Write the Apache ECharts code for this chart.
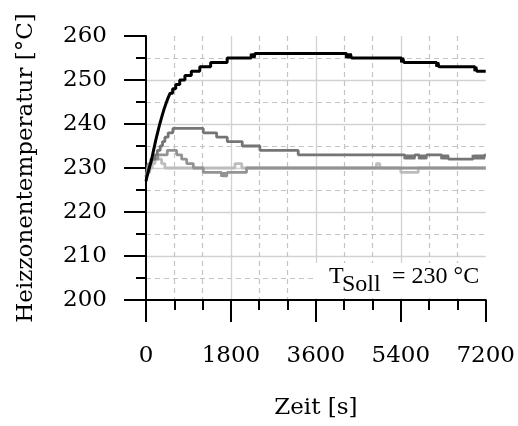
<!DOCTYPE html>
<html>
<head>
<meta charset="utf-8">
<script src="https://cdn.jsdelivr.net/npm/echarts@6/dist/echarts.min.js"></script>
<style>
  html, body { margin: 0; padding: 0; background: #fff; }
  #chart { width: 518px; height: 426px; }
</style>
</head>
<body>
<div id="chart"></div>
<script>
// Axis ticks
const timeTicks = [0, 1800, 3600, 5400, 7200];          // Zeit [s]
const tempTicks = [200, 210, 220, 230, 240, 250, 260];  // Heizzonentemperatur [°C]

// Heating zone temperatures, [time s, temperature °C], value holds until next point
const zoneBlack = [
  [0, 227], [20, 228], [45, 229], [70, 230], [95, 231], [120, 232], [140, 233], [160, 234],
  [180, 235], [200, 236], [222, 237], [245, 238], [268, 239], [292, 240], [318, 241],
  [345, 242], [372, 243], [402, 244], [435, 245], [470, 246], [512, 247], [565, 248],
  [630, 249], [715, 250], [825, 251], [960, 252], [1140, 253], [1370, 254], [1720, 255],
  [2230, 256], [2250, 255], [2270, 256], [2290, 255], [2310, 256],
  [4250, 255], [4275, 256], [4300, 255], [4330, 256], [4355, 255],
  [5415, 254], [5440, 255], [5465, 254],
  [6160, 253], [6185, 254], [6210, 253],
  [6970, 252], [6990, 253], [7010, 252],
  [7200, 252]
];

const zoneDark = [
  [0, 228], [30, 229], [60, 230], [100, 231], [140, 232], [190, 233], [240, 234],
  [300, 235], [350, 236], [400, 237], [470, 238], [570, 239],
  [1214, 238], [1497, 237], [1722, 236], [2040, 235], [2414, 234], [3226, 233],
  [5485, 232], [5510, 233], [5535, 232], [5560, 233], [5585, 232], [5610, 233],
  [5635, 232], [5660, 233], [5680, 232], [5700, 233],
  [5790, 232], [5815, 233], [5840, 232], [5865, 233], [5890, 232], [5915, 233],
  [5935, 232], [5945, 233],
  [6265, 232], [6290, 233], [6315, 232], [6340, 233], [6365, 232], [6390, 233], [6415, 232],
  [6930, 233], [6955, 232], [6980, 233], [7005, 232], [7030, 233], [7055, 232],
  [7080, 233], [7105, 232], [7130, 233], [7155, 232], [7180, 233], [7200, 233]
];

const zoneMid = [
  [0, 228], [15, 229], [30, 230], [50, 231], [100, 232], [250, 233], [450, 234],
  [650, 233], [756, 232], [862, 231], [1003, 230], [1214, 229],
  [1600, 228], [1625, 229], [1650, 228], [1675, 229], [1700, 228], [1725, 229],
  [2130, 230], [7200, 230]
];

const zoneLight = [
  [0, 228], [30, 229], [80, 230], [130, 231], [190, 232], [330, 231], [400, 230],
  [1885, 231], [2030, 230], [4885, 231], [4955, 230], [5400, 229], [5770, 230],
  [7200, 230]
];

const setpointLabel = { sym: 'T', sub: 'Soll', rest: '= 230 °C' };

const axisFont = '"DejaVu Serif", serif';
const labelFont = '"Liberation Serif", serif';

const chart = echarts.init(document.getElementById('chart'), null, { renderer: 'canvas' });

function zoneSeries(name, data, color, width, z) {
  return {
    name: name,
    type: 'line',
    step: 'end',
    data: data,
    symbol: 'none',
    showSymbol: false,
    z: z,
    lineStyle: { color: color, width: width, join: 'bevel', cap: 'butt' },
    emphasis: { disabled: true },
    animation: false
  };
}

const blackAxis = { color: '#000', width: 2 };

chart.setOption({
  animation: false,
  backgroundColor: '#fff',
  grid: { left: 146, right: 32, top: 36, bottom: 126, containLabel: false },
  xAxis: {
    type: 'value',
    min: timeTicks[0],
    max: timeTicks[timeTicks.length - 1],
    interval: timeTicks[1] - timeTicks[0],
    name: 'Zeit [s]',
    nameLocation: 'middle',
    nameGap: 97,
    nameTextStyle: { fontFamily: axisFont, fontSize: 23, color: '#000' },
    axisLine: { show: true, onZero: false, lineStyle: blackAxis },
    axisTick: { show: true, inside: false, length: 22, lineStyle: blackAxis },
    minorTick: { show: true, splitNumber: 3, length: 10, lineStyle: blackAxis },
    axisLabel: { fontFamily: axisFont, fontSize: 23, color: '#000', margin: 45,
                 formatter: function (v) { return String(v); } },
    splitLine: { show: true, showMinLine: false, showMaxLine: false,
                 lineStyle: { color: '#d2d2d2', width: 1.3 } },
    minorSplitLine: { show: true, lineStyle: { color: '#c4c4c4', width: 1.2, type: [5, 4] } }
  },
  yAxis: {
    type: 'value',
    min: tempTicks[0],
    max: tempTicks[tempTicks.length - 1],
    interval: tempTicks[1] - tempTicks[0],
    name: 'Heizzonentemperatur [°C]',
    nameLocation: 'middle',
    nameGap: 108,
    nameTextStyle: { fontFamily: axisFont, fontSize: 23, color: '#000' },
    axisLine: { show: true, onZero: false, lineStyle: blackAxis },
    axisTick: { show: true, inside: false, length: 22, lineStyle: blackAxis },
    minorTick: { show: true, splitNumber: 2, length: 10, lineStyle: blackAxis },
    axisLabel: { fontFamily: axisFont, fontSize: 23, color: '#000', margin: 39,
                 formatter: function (v) { return String(v); } },
    splitLine: { show: true, showMinLine: false, showMaxLine: false,
                 lineStyle: { color: '#d2d2d2', width: 1.3 } },
    minorSplitLine: { show: true, lineStyle: { color: '#c4c4c4', width: 1.2, type: [5, 4] } }
  },
  series: [
    zoneSeries('Zone 4', zoneLight, '#bdbdbd', 2.8, 2),
    zoneSeries('Zone 3', zoneMid, '#939393', 2.8, 3),
    zoneSeries('Zone 2', zoneDark, '#757575', 2.8, 4),
    zoneSeries('Zone 1', zoneBlack, '#000000', 3, 5)
  ],
  graphic: [
    { type: 'rect', z: 1, shape: { x: 314.5, y: 263, width: 172, height: 35 }, style: { fill: '#fff' } },
    { type: 'text', z: 6, x: 329, y: 289,
      style: { text: setpointLabel.sym, font: '24px ' + labelFont, fill: '#000', verticalAlign: 'bottom' } },
    { type: 'text', z: 6, x: 342, y: 297,
      style: { text: setpointLabel.sub, font: '24px ' + labelFont, fill: '#000', verticalAlign: 'bottom' } },
    { type: 'text', z: 6, x: 392, y: 289,
      style: { text: setpointLabel.rest, font: '24px ' + labelFont, fill: '#000', verticalAlign: 'bottom' } }
  ]
});
</script>
</body>
</html>
